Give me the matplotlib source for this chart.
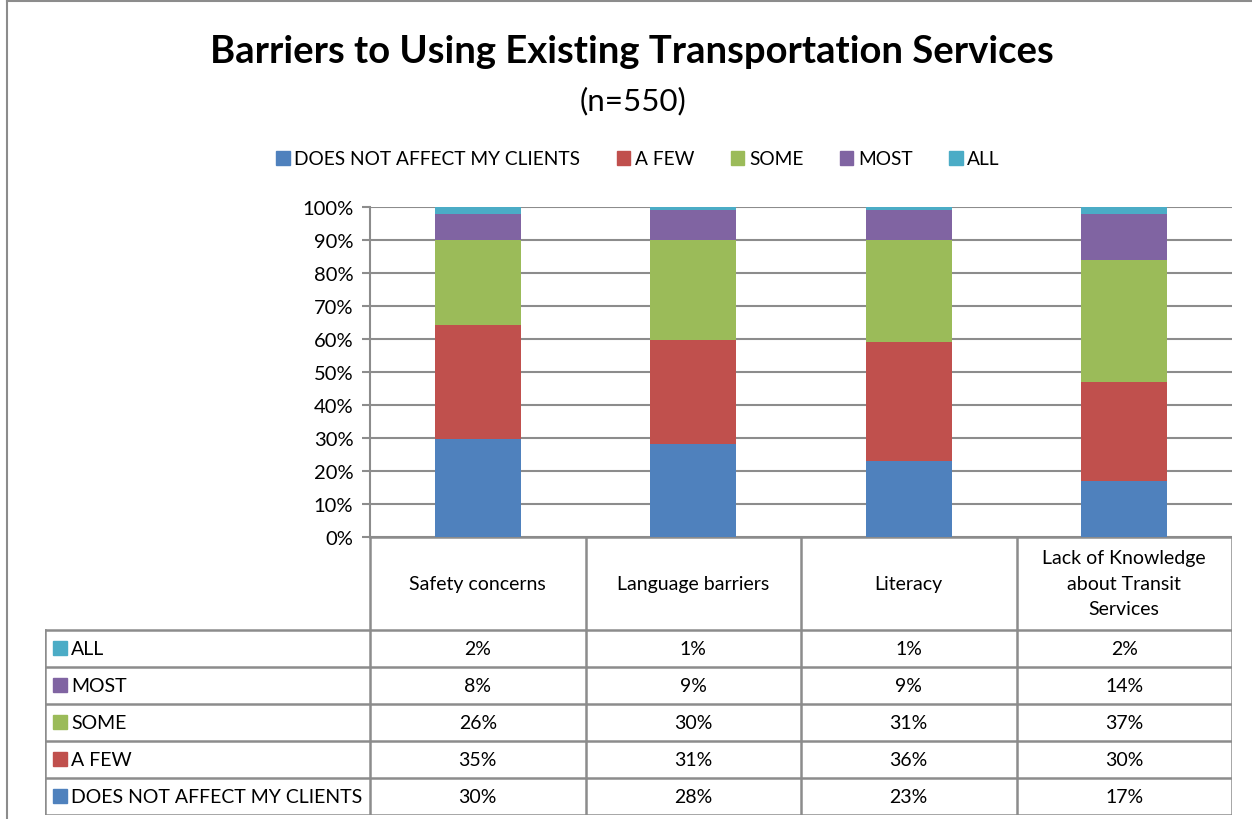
import numpy as np
import matplotlib
matplotlib.use('Agg')
import matplotlib.pyplot as plt
from matplotlib.patches import Patch
from matplotlib.lines import Line2D

plt.rcParams['font.family'] = ['Lato', 'DejaVu Sans']

categories = ['Safety concerns', 'Language barriers', 'Literacy',
              'Lack of Knowledge\nabout Transit\nServices']
series = ['DOES NOT AFFECT MY CLIENTS', 'A FEW', 'SOME', 'MOST', 'ALL']
values = {
    'DOES NOT AFFECT MY CLIENTS': [30, 28, 23, 17],
    'A FEW': [35, 31, 36, 30],
    'SOME': [26, 30, 31, 37],
    'MOST': [8, 9, 9, 14],
    'ALL': [2, 1, 1, 2],
}
colors = {
    'DOES NOT AFFECT MY CLIENTS': '#4F81BD',
    'A FEW': '#C0504D',
    'SOME': '#9BBB59',
    'MOST': '#8064A2',
    'ALL': '#4BACC6',
}
title = 'Barriers to Using Existing Transportation Services'
subtitle = '(n=550)'

W, H = 1252, 820
fig = plt.figure(figsize=(W / 100, H / 100), dpi=100)
grid_c = '#8c8c8c'
fs = 14

def fx(px):
    return px / W

def fy(py):
    return 1 - py / H

# chart border (left and top)
fig.add_artist(Line2D([fx(7), fx(7)], [fy(2), 0], color='#8c8c8c', lw=1.5))
fig.add_artist(Line2D([fx(7), 1], [fy(2), fy(2)], color='#8c8c8c', lw=1.5))

fig.text(fx(632), fy(52), title, ha='center', va='center', fontsize=27.5,
         fontweight='bold')
fig.text(fx(633), fy(101), subtitle, ha='center', va='center', fontsize=22.5)

# bars
ax = fig.add_axes([fx(370), fy(538), fx(1232 - 370), (538 - 208) / H])
x = np.arange(len(categories))
data = np.array([values[s] for s in series], dtype=float)
pct = data / data.sum(axis=0) * 100
bottom = np.zeros(len(categories))
for s, row in zip(series, pct):
    ax.bar(x, row, 0.4, bottom=bottom, color=colors[s], zorder=3)
    bottom += row

ax.set_xlim(-0.5, len(categories) - 0.5)
ax.set_ylim(0, 100)
ax.set_yticks(np.arange(0, 101, 10))
ax.set_yticklabels([f'{v}%' for v in range(0, 101, 10)], fontsize=14.5)
ax.set_xticks([])
ax.yaxis.grid(True, color=grid_c, lw=1.5, zorder=0)
for side in ['top', 'right', 'bottom']:
    ax.spines[side].set_visible(False)
ax.spines['left'].set_color(grid_c)
ax.spines['left'].set_linewidth(1.5)
ax.tick_params(axis='y', length=6, color=grid_c, width=1.5, pad=6)

handles = [Patch(color=colors[s], label=s) for s in series]
fig.legend(handles=handles, loc='center', bbox_to_anchor=(fx(638), fy(160)),
           ncol=5, frameon=False, fontsize=13.8, handlelength=0.7,
           handleheight=0.7, handletextpad=0.25, columnspacing=1.9)

# data table
label_w = (370 - 45) / ((1232 - 370) / len(categories))
n_rows = len(series)
head_h = 2.5
tab = fig.add_axes([fx(45), fy(816), fx(1232 - 45), (816 - 538) / H])
tab.set_xlim(-0.5 - label_w, len(categories) - 0.5)
tab.set_ylim(0, n_rows + head_h)
tab.axis('off')

lc = dict(color=grid_c, lw=1.8, solid_capstyle='projecting')
left = -0.5 - label_w
right = len(categories) - 0.5
for i in range(n_rows + 1):
    tab.plot([left, right], [i, i], **lc)
tab.plot([-0.5, right], [n_rows + head_h] * 2, **lc)
tab.plot([left, left], [0, n_rows], **lc)
for j in range(len(categories) + 1):
    tab.plot([j - 0.5] * 2, [0, n_rows + head_h], **lc)

for j, cat in enumerate(categories):
    tab.text(j, n_rows + head_h / 2, cat, ha='center', va='center',
             fontsize=fs, linespacing=1.6)

for i, s in enumerate(series):
    yc = i + 0.5
    tab.plot([left + 0.07], [yc], marker='s', ms=9.5, color=colors[s],
             linestyle='none')
    tab.text(left + 0.12, yc, s, ha='left', va='center', fontsize=fs)
    for j in range(len(categories)):
        tab.text(j, yc, f'{values[s][j]}%', ha='center', va='center',
                 fontsize=fs)

fig.savefig('out.png', dpi=100)
